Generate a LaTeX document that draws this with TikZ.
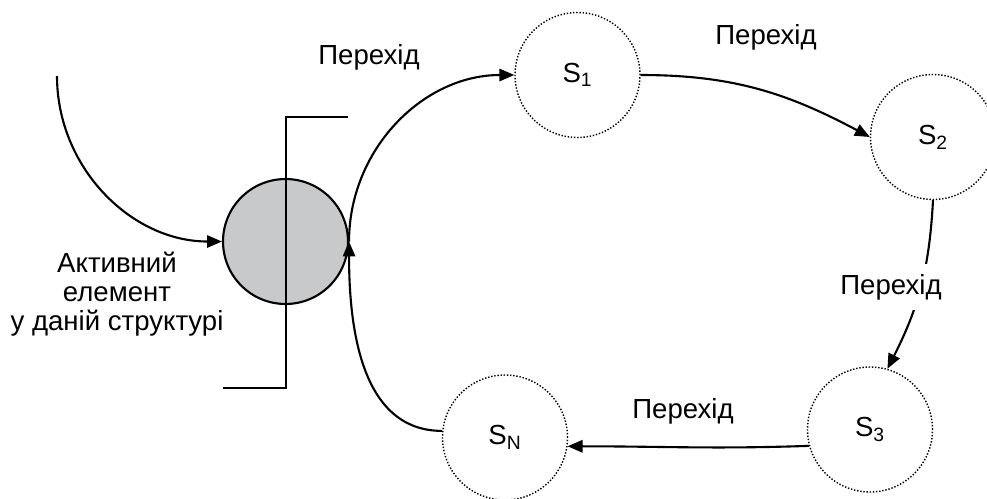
\documentclass[tikz,border=0pt]{standalone}
\usepackage{fontspec}
\setmainfont{Liberation Sans}
\usetikzlibrary{arrows.meta}
\definecolor{activegray}{RGB}{200,201,203}
\begin{document}
\begin{tikzpicture}[x=0.02cm,y=-0.02cm,line width=1.2pt,
            font=\fontsize{15.7}{16.5}\selectfont]
            \tikzset{
                state/.style={circle,draw,dash pattern=on 0.8pt off 1pt,line width=0.8pt,minimum size=2.5cm,inner sep=0pt},
                activestate/.style={circle,draw,fill=activegray,minimum size=2.5cm,inner sep=0pt},
                trans/.style={-{Triangle[length=8.5pt,width=7pt]}},}
            \useasboundingbox (0,0) rectangle (987,498);
            \node[activestate] (act) at (285.5,241.5) {};
            % bracket over the active element
            \draw (348,117) -- (286,117) -- (286,388) -- (223,388);
            \node[state] (s1) at (577.5,75) {S\textsubscript{1}};
            \node[state] (s2) at (933,137) {S\textsubscript{2}};
            \node[state] (s3) at (870,429.5) {S\textsubscript{3}};
            \node[state] (sn) at (505,437.5) {S\textsubscript{N}};
            \coordinate (in) at (57,76);
            \draw[trans] (in) to[out=-90,in=180] (act.west);
            \draw[trans] (act.east) to[out=90,in=180] (s1.west);
            \draw[trans] (s1.east) to[out=0,in=152] (s2.west);
            \draw[trans] (s2.south) to[out=-93,in=63] (s3.74);
            \draw[trans] (s3.195) to[out=182,in=0] (sn.-8);
            \draw[trans] (sn.174) to[out=180,in=-90] (act.east);
            \node (t1) at (369,57) {Перехід};
            \node (t2) at (766,37) {Перехід};
            \node[fill=white,inner sep=6pt] (t3) at (891,287) {Перехід};
            \node (t4) at (683,411) {Перехід};
            \node[align=center] (lbl) at (117,294) {Активний\\елемент\\у даній структурі};
        \end{tikzpicture}
\end{document}
